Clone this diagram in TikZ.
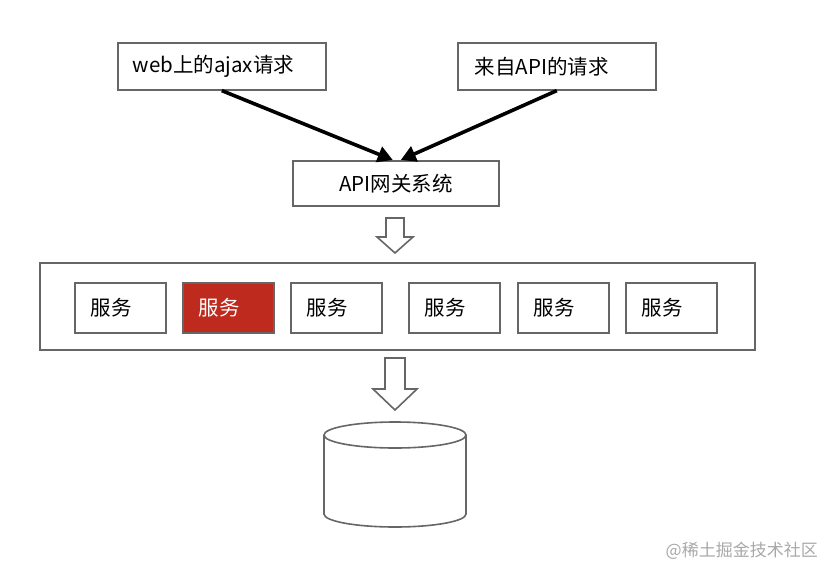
\documentclass[tikz,border=0pt]{standalone}
\usepackage{fontspec}
\setmainfont{Noto Sans CJK SC}
\usetikzlibrary{arrows.meta,calc}
\definecolor{edge}{HTML}{666666}
\definecolor{svcred}{HTML}{BE2A1E}
\definecolor{wm}{HTML}{A8A8A8}
\begin{document}
\begin{tikzpicture}[x=1pt,y=-1pt,
  box/.style={draw=edge,line width=1.6pt,fill=white,inner ysep=0pt,
    font=\fontsize{20.5}{24}\selectfont},
  svc/.style={box,minimum width=91pt,minimum height=50pt,inner xsep=16pt,text width=59pt,align=left,anchor=north west},
  hot/.style={fill=svcred,text=white},
  req/.style={line width=3.6pt,-{Triangle[length=15pt,width=16pt]}},
  hollow/.style={draw=edge,line width=1.6pt,fill=white,line join=miter},
  db/.style={draw=edge,line width=1.6pt,fill=white}]
\useasboundingbox (0,0) rectangle (822,568);

% request boxes
\node[box,anchor=north west,minimum width=208pt,minimum height=47pt,inner xsep=15pt,text width=178pt,align=left] (web) at (117,42) {web上的ajax请求};
\node[box,anchor=north west,minimum width=198pt,minimum height=47pt,inner xsep=17pt,text width=164pt,align=left] (ext) at (457,42) {来自API的请求};

% gateway
\node[box,anchor=north west,minimum width=206pt,minimum height=45pt,align=center] (gw) at (292,160) {API网关系统};

\draw[req] (web.south) -- ($(gw.north)+(-3,0)$);
\draw[req] (ext.south) -- ($(gw.north)+(5,0)$);

% hollow arrow 1
\coordinate (h1) at (395,218);
\draw[hollow] ($(h1)+(-9,0)$) -- ($(h1)+(9,0)$) -- ($(h1)+(9,19)$) -- ($(h1)+(18,19)$) -- ($(h1)+(0,35)$) -- ($(h1)+(-18,19)$) -- ($(h1)+(-9,19)$) -- cycle;

% service container
\node[draw=edge,line width=1.6pt,anchor=north west,minimum width=715pt,minimum height=87pt,inner sep=0pt] (cont) at (39,262) {};

\node[svc] (s1) at (74,282) {服务};
\node[svc,hot] (s2) at (182,282) {服务};
\node[svc] (s3) at (290,282) {服务};
\node[svc] (s4) at (408,282) {服务};
\node[svc] (s5) at (517,282) {服务};
\node[svc] (s6) at (625,282) {服务};

% hollow arrow 2
\coordinate (h2) at (395,358);
\draw[hollow] ($(h2)+(-10,0)$) -- ($(h2)+(10,0)$) -- ($(h2)+(10,31)$) -- ($(h2)+(22,31)$) -- ($(h2)+(0,52)$) -- ($(h2)+(-22,31)$) -- ($(h2)+(-10,31)$) -- cycle;

% database cylinder
\coordinate (dbtop) at (395,435);
\coordinate (dbbot) at (395,514);
\draw[db] ($(dbtop)+(-71,0)$) -- ($(dbbot)+(-71,0)$) arc[start angle=180,end angle=360,x radius=71pt,y radius=13pt] -- ($(dbtop)+(71,0)$);
\draw[db] (dbtop) ellipse[x radius=71pt,y radius=13pt];

% watermark
\node[text=wm,font=\fontsize{17}{20}\selectfont,anchor=east,inner sep=0pt] (mark) at (818,551) {@稀土掘金技术社区};
\end{tikzpicture}
\end{document}
